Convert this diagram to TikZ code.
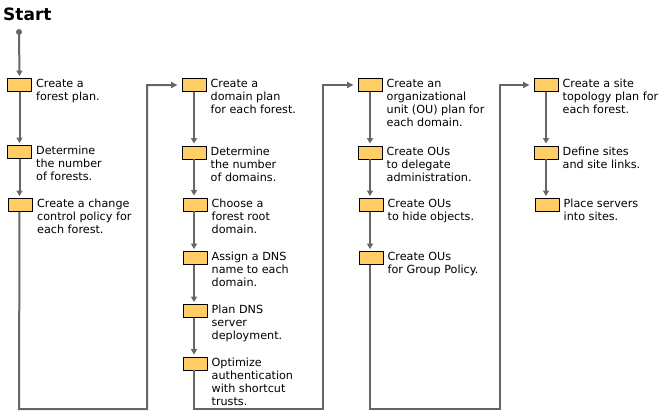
\documentclass[tikz,border=0pt]{standalone}
\usepackage{fontspec}
\setmainfont{DejaVu Sans}
\usetikzlibrary{arrows.meta}
\definecolor{boxfill}{RGB}{255,204,102}
\definecolor{linegray}{RGB}{102,102,102}
\tikzset{
  stepbox/.style={draw=black, line width=0.9pt, fill=boxfill, minimum width=24pt, minimum height=13pt, inner sep=0pt},
  txt/.style={anchor=north west, align=left, inner sep=0pt, font=\fontsize{11.2}{13}\selectfont},
  flow/.style={draw=linegray, line width=2pt, -{Triangle[width=6pt,length=5.5pt]}, shorten >=2pt},
  loopline/.style={draw=linegray, line width=2pt, -{Triangle[width=6pt,length=6.5pt]}, shorten >=4pt},
}
\newcommand{\lbl}[3]{\node[txt] (#1) at ([xshift=4pt,yshift=-1pt]#2.north east) {#3};}
\begin{document}
\begin{tikzpicture}[x=1pt,y=-1pt]
\useasboundingbox (0,0) rectangle (668,415);
\node[anchor=base west, inner sep=0pt, font=\bfseries\fontsize{17}{20}\selectfont] (start) at (3,20.5) {Start};
\fill[linegray] (19,32) circle (3pt);
\coordinate (dot) at (19,32);
% column 1
\node[stepbox] (a1) at (19.5,85) {};
\node[stepbox] (a2) at (19.5,152) {};
\node[stepbox] (a3) at (20.5,205) {};
% column 2
\node[stepbox] (b1) at (194,85) {};
\node[stepbox] (b2) at (194,152.5) {};
\node[stepbox] (b3) at (195,204.5) {};
\node[stepbox] (b4) at (195,258) {};
\node[stepbox] (b5) at (195,311) {};
\node[stepbox] (b6) at (195,363.5) {};
% column 3
\node[stepbox] (c1) at (370,85) {};
\node[stepbox] (c2) at (370,152.5) {};
\node[stepbox] (c3) at (371,205) {};
\node[stepbox] (c4) at (371,258) {};
% column 4
\node[stepbox] (d1) at (546,85) {};
\node[stepbox] (d2) at (546,152.5) {};
\node[stepbox] (d3) at (547,205) {};
% labels
\lbl{ta1}{a1}{Create a\\forest plan.}
\lbl{ta2}{a2}{Determine\\the number\\of forests.}
\lbl{ta3}{a3}{Create a change\\control policy for\\each forest.}
\lbl{tb1}{b1}{Create a\\domain plan\\for each forest.}
\lbl{tb2}{b2}{Determine\\the number\\of domains.}
\lbl{tb3}{b3}{Choose a\\forest root\\domain.}
\lbl{tb4}{b4}{Assign a DNS\\name to each\\domain.}
\lbl{tb5}{b5}{Plan DNS\\server\\deployment.}
\lbl{tb6}{b6}{Optimize\\authentication\\with shortcut\\trusts.}
\lbl{tc1}{c1}{Create an\\organizational\\unit (OU) plan for\\each domain.}
\lbl{tc2}{c2}{Create OUs\\to delegate\\administration.}
\lbl{tc3}{c3}{Create OUs\\to hide objects.}
\lbl{tc4}{c4}{Create OUs\\for Group Policy.}
\lbl{td1}{d1}{Create a site\\topology plan for\\each forest.}
\lbl{td2}{d2}{Define sites\\and site links.}
\lbl{td3}{d3}{Place servers\\into sites.}
% connectors
\draw[flow] (dot) -- (a1.north);
\draw[flow] (a1.south) -- (a2.north);
\draw[flow] (a2.south) -- (a3.north -| a2.south);
\draw[loopline] (a3.south -| a1.south) -- (19,409) -- (147,409) -- (147,85) -- (b1.west);
\draw[flow] (b1.south) -- (b2.north);
\draw[flow] (b2.south) -- (b3.north -| b2.south);
\draw[flow] (b3.south -| b2.south) -- (b4.north -| b2.south);
\draw[flow] (b4.south -| b2.south) -- (b5.north -| b2.south);
\draw[flow] (b5.south -| b2.south) -- (b6.north -| b2.south);
\draw[loopline] (b6.south -| b2.south) -- (194,409) -- (323,409) -- (323,85) -- (c1.west);
\draw[flow] (c1.south) -- (c2.north);
\draw[flow] (c2.south) -- (c3.north -| c2.south);
\draw[flow] (c3.south -| c2.south) -- (c4.north -| c2.south);
\draw[loopline] (c4.south -| c2.south) -- (370,409) -- (499.5,409) -- (499.5,85) -- (d1.west);
\draw[flow] (d1.south) -- (d2.north);
\draw[flow] (d2.south) -- (d3.north -| d2.south);
\end{tikzpicture}
\end{document}
